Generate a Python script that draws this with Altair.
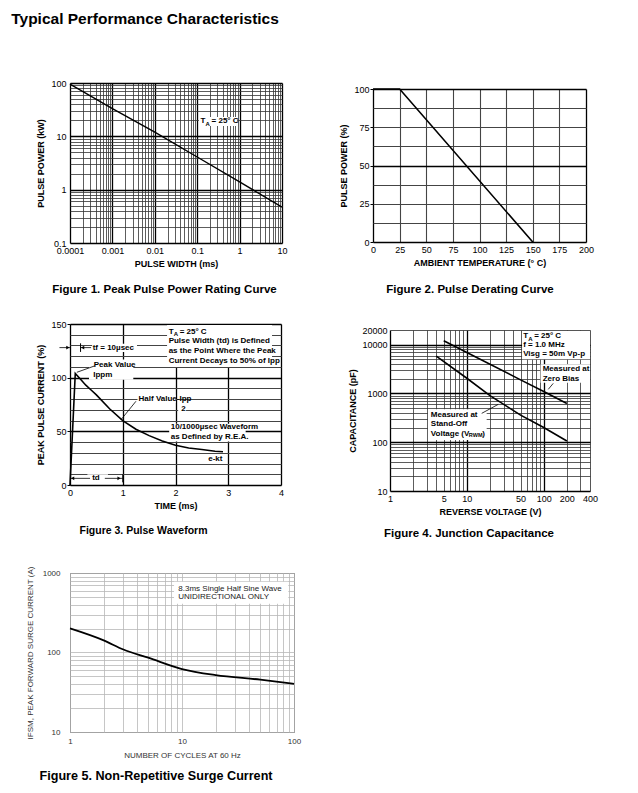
import json
import math
import altair as alt
import pandas as pd

FONT = "Liberation Sans"

# ---------------- data ----------------
# Figure 1: Peak pulse power rating curve
fig1_width_ms = [0.0001, 0.001, 0.01, 0.1, 1, 10]
fig1_power_kw = [95, 33, 12, 4.1, 1.4, 0.47]

# Figure 2: Pulse derating curve
fig2_temp_c = [0, 25, 150]
fig2_power_pct = [100, 100, 0]

# Figure 3: Pulse waveform
fig3_time_ms = [0, 0.1, 0.2, 0.3, 0.4, 0.5, 0.75, 1.0, 1.25, 1.5, 1.75, 2.0, 2.25, 2.5,
                2.75, 2.9]
fig3_current_pct = [0, 104, 98.5, 93, 88.5, 84, 71, 60, 52, 46, 41, 37, 34.5, 33, 31.5, 31]

# Figure 4: Junction capacitance
fig4_zero_v = [5, 10, 50, 100, 200]
fig4_zero_pf = [12000, 6900, 1900, 1100, 620]
fig4_standoff_v = [4, 10, 20, 50, 100, 200]
fig4_standoff_pf = [5800, 2050, 900, 360, 200, 106]

# Figure 5: Non-repetitive surge current
fig5_cycles = [1, 2, 3, 5, 10, 20, 50, 100]
fig5_ifsm_a = [201, 142, 109, 86, 62, 52, 45.5, 40.3]

# tick labels
fig1_x_labels = [0.0001, 0.001, 0.01, 0.1, 1, 10]
fig1_y_labels = [0.1, 1, 10, 100]
fig2_x_labels = [0, 25, 50, 75, 100, 125, 150, 175, 200]
fig2_y_labels = [0, 25, 50, 75, 100]
fig3_x_labels = [0, 1, 2, 3, 4]
fig3_y_labels = [0, 50, 100, 150]
fig4_x_labels = [1, 5, 10, 50, 100, 200, 400]
fig4_y_labels = [10, 100, 1000, 10000, 20000]
fig5_x_labels = [1, 10, 100]
fig5_y_labels = [10, 100, 1000]

# annotation texts
fig3_note_text = ["Pulse Width (td) is Defined", "as the Point Where the Peak",
                  "Current Decays to 50% of Ipp"]
fig3_wave_text = ["10/1000\u00b5sec Waveform", "as Defined by R.E.A."]
fig4_cond_text = ["f = 1.0 MHz", "Visg = 50m Vp-p"]
fig5_note_text = ["8.3ms Single Half Sine Wave", "UNIDIRECTIONAL ONLY"]


# ---------------- helpers ----------------
def log_values(lo, hi):
    vals = []
    e = math.floor(math.log10(lo))
    while True:
        for m in range(1, 10):
            v = float(f"{m * 10.0 ** e:.12g}")
            if v > hi * 1.0001:
                return vals
            if v >= lo * 0.9999:
                vals.append(v)
        e += 1


def lin_values(lo, hi, step):
    n = int(round((hi - lo) / step))
    return [float(f"{lo + i * step:.10g}") for i in range(n + 1)]


def grid_axis(title, values, labels, fmt, major, minc="#333", majc="#000",
              minw=0.8, majw=1.3, color="#000", lsize=9, tsize=9, tbold=True,
              label_pad=3, title_pad=4, tick=0):
    lab = "indexof(%s, datum.value) >= 0" % json.dumps(labels)
    maj = "indexof(%s, datum.value) >= 0" % json.dumps(major)
    extra = {}
    if tick > 0:
        extra = dict(ticks=True, tickSize=tick, tickWidth=1,
                     tickColor={"condition": {"test": lab, "value": "#000"},
                                "value": "transparent"})
    else:
        extra = dict(ticks=False)
    return alt.Axis(
        title=title, values=values, format=fmt,
        labelExpr=f"{lab} ? datum.label : ''",
        grid=True, domain=False,
        gridColor={"condition": {"test": maj, "value": majc}, "value": minc},
        gridWidth={"condition": {"test": maj, "value": majw}, "value": minw},
        labelFont=FONT, labelFontSize=lsize, labelColor=color, labelPadding=label_pad,
        labelOverlap=False, labelFlush=False,
        titleFont=FONT, titleFontSize=tsize, titleFontWeight="bold" if tbold else "normal",
        titleColor=color, titlePadding=title_pad, **extra,
    )


class Frame:
    """Shared x / y scales and axes of one figure."""

    def __init__(self, sx, sy, ax, ay):
        self.sx, self.sy, self.ax, self.ay = sx, sy, ax, ay

    def x(self):
        return alt.X("x:Q", scale=self.sx, axis=self.ax)

    def y(self):
        return alt.Y("y:Q", scale=self.sy, axis=self.ay)

    def line(self, xs, ys, width=1.6, interp="linear"):
        return alt.Chart(pd.DataFrame({"x": xs, "y": ys})).mark_line(
            color="black", strokeWidth=width, interpolate=interp).encode(x=self.x(), y=self.y())

    def texts(self, df, size=8, bold=True, color="#000", align="left", dx=0, dy=0):
        return alt.Chart(df).mark_text(
            font=FONT, fontSize=size, fontWeight="bold" if bold else "normal",
            color=color, align=align, baseline="middle", dx=dx, dy=dy,
        ).encode(x=self.x(), y=self.y(), text="t:N")

    def boxes(self, df):
        return alt.Chart(df).mark_rect(fill="white").encode(
            x=self.x(), x2="x2:Q", y=self.y(), y2="y2:Q")

    def rules(self, df, width=0.8):
        return alt.Chart(df).mark_rule(color="black", strokeWidth=width).encode(
            x=self.x(), x2="x2:Q", y=self.y(), y2="y2:Q")

    def heads(self, df, shape):
        return alt.Chart(df).mark_point(shape=shape, filled=True, color="black", size=14,
                                        opacity=1).encode(x=self.x(), y=self.y())

    def ta_label(self, x, y, size=8):
        mk = lambda t: pd.DataFrame({"x": [x], "y": [y], "t": [t]})
        return [self.texts(mk("T"), size=size),
                self.texts(mk("A"), size=size - 2, dx=5, dy=2.5),
                self.texts(mk("= 25\u00b0 C"), size=size, dx=11)]


def caption(text, dx=0, offset=14, size=11.5, color="#000"):
    return alt.TitleParams(text, orient="bottom", font=FONT, fontSize=size,
                           fontWeight="bold", color=color, offset=offset, dx=dx)


def spacer():
    return alt.Chart(pd.DataFrame({"a": [0]})).mark_point(opacity=0, size=1).encode(
        x=alt.value(0), y=alt.value(0)).properties(
        width=1, height=1, view=alt.ViewBackground(strokeOpacity=0))


def shifted(ch, gap):
    """Push a panel down a few pixels below an invisible 1-pixel spacer."""
    return alt.vconcat(spacer(), ch, spacing=gap)


# ---------------- Figure 1 ----------------
f1 = Frame(
    alt.Scale(type="log", domain=[0.0001, 10], nice=False),
    alt.Scale(type="log", domain=[0.1, 100], nice=False),
    grid_axis("PULSE WIDTH (ms)", log_values(0.0001, 10), fig1_x_labels, "~g", fig1_x_labels),
    grid_axis("PULSE POWER (kW)", log_values(0.1, 100), fig1_y_labels, "~g", fig1_y_labels,
              label_pad=4, title_pad=5),
)
fig1 = alt.layer(
    f1.line(fig1_width_ms, fig1_power_kw, width=1.4),
    f1.boxes(pd.DataFrame({"x": [0.11], "x2": [0.87], "y": [15.6], "y2": [23]})),
    *f1.ta_label(0.12, 19),
).properties(width=212, height=160,
             title=caption("Figure 1. Peak Pulse Power Rating Curve", dx=-11.5, offset=16))

# ---------------- Figure 2 ----------------
f2 = Frame(
    alt.Scale(domain=[0, 200], nice=False),
    alt.Scale(domain=[0, 100], nice=False),
    grid_axis("AMBIENT TEMPERATURE (\u00b0 C)", lin_values(0, 200, 25), fig2_x_labels, "d",
              [0, 200], minc="#444", minw=1.1),
    grid_axis("PULSE POWER (%)", lin_values(0, 100, 12.5), fig2_y_labels, "d",
              [0, 50, 100], minc="#444", minw=1.1, label_pad=1, title_pad=5, tick=3),
)
fig2 = f2.line(fig2_temp_c, fig2_power_pct).properties(
    width=213, height=153,
    title=caption("Figure 2. Pulse Derating Curve", dx=-9.5, offset=17))

# ---------------- Figure 3 ----------------
f3 = Frame(
    alt.Scale(domain=[0, 4], nice=False),
    alt.Scale(domain=[0, 150], nice=False),
    grid_axis("TIME (ms)", lin_values(0, 4, 0.5), fig3_x_labels, "d", fig3_x_labels,
              minc="#444", minw=1.0),
    grid_axis("PEAK PULSE CURRENT (%)", lin_values(0, 150, 10), fig3_y_labels, "d",
              fig3_y_labels, minc="#444", minw=1.0, label_pad=1, title_pad=5, tick=3),
)
fig3 = alt.layer(
    f3.boxes(pd.DataFrame({
        "x":  [0.42, 0.36, 1.84, 1.28, 2.05, 1.88, 2.5, 0.33],
        "x2": [1.27, 1.2, 3.83, 2.0, 2.2, 3.33, 2.8, 0.72],
        "y":  [124, 98, 110, 76.5, 67.5, 40.5, 20.5, 2.5],
        "y2": [131.5, 117, 149, 84, 75, 57, 28, 10],
    })),
    f3.line(fig3_time_ms, fig3_current_pct),
    f3.rules(pd.DataFrame({
        "x":  [-0.2, 0.2, 0.0, 0.66, 0.47, 1.25],
        "x2": [0.0, 0.4, 0.38, 1.0, 0.13, 0.97],
        "y":  [128, 128, 6.2, 6.2, 111, 78],
        "y2": [128, 128, 6.2, 6.2, 105, 61],
    })),
    f3.rules(pd.DataFrame({"x": [0.2, 1.0], "x2": [0.2, 1.0], "y": [124, 2.5],
                           "y2": [132, 10]}), width=1),
    f3.heads(pd.DataFrame({"x": [-0.04, 0.93], "y": [128, 6.2]}), "triangle-right"),
    f3.heads(pd.DataFrame({"x": [0.24, 0.05], "y": [128, 6.2]}), "triangle-left"),
    f3.texts(pd.DataFrame({
        "x": [0.43, 0.45, 0.44, 1.87, 1.87, 1.87, 1.30, 2.11, 1.91, 1.91, 2.62, 0.42],
        "y": [127.6, 112, 102.5, 133.9, 124.5, 115.2, 80, 71, 53.9, 44.3, 24.3, 6.2],
        "t": ["tf = 10\u00b5sec", "Peak Value", "Ippm"] + fig3_note_text
             + ["Half Value-Ipp", "2"] + fig3_wave_text + ["e-kt", "td"],
    })),
    *f3.ta_label(1.87, 143),
).properties(width=211, height=161,
             title=caption("Figure 3. Pulse Waveform", dx=-32, offset=15.5, size=10.5))

# ---------------- Figure 4 ----------------
f4 = Frame(
    alt.Scale(type="log", domain=[1, 400], nice=False),
    alt.Scale(type="log", domain=[10, 20000], nice=False),
    grid_axis("REVERSE VOLTAGE (V)", log_values(1, 400), fig4_x_labels, "d", [1, 10, 100]),
    grid_axis("CAPACITANCE (pF)", log_values(10, 20000), fig4_y_labels, "d",
              [10, 100, 1000, 10000], title_pad=4),
)
fig4 = alt.layer(
    f4.boxes(pd.DataFrame({
        "x": [52.3, 91, 3.12], "x2": [400, 400, 18.1],
        "y": [5000, 1660, 111], "y2": [19000, 3950, 472],
    })),
    f4.line(fig4_zero_v, fig4_zero_pf),
    f4.line(fig4_standoff_v, fig4_standoff_pf),
    f4.rules(pd.DataFrame({"x": [133, 15.6], "x2": [114.5, 25.6],
                           "y": [1610, 391], "y2": [1213, 598]})),
    f4.texts(pd.DataFrame({
        "x": [54, 54, 97, 97, 3.4, 3.4, 3.4],
        "y": [9700, 6300, 3220, 2010, 361, 233, 145],
        "t": fig4_cond_text + ["Measured at", "Zero Bias", "Measured at", "Stand-Off",
                               "Voltage (V"],
    })),
    f4.texts(pd.DataFrame({"x": [3.4], "y": [145], "t": ["RWM"]}), size=5.5, dx=38, dy=1),
    f4.texts(pd.DataFrame({"x": [3.4], "y": [145], "t": [")"]}), dx=51.5),
    *f4.ta_label(54, 15000),
).properties(width=200, height=161,
             title=caption("Figure 4. Junction Capacitance", dx=-21, offset=12))

# ---------------- Figure 5 ----------------
f5 = Frame(
    alt.Scale(type="log", domain=[1, 100], nice=False),
    alt.Scale(type="log", domain=[10, 1000], nice=False),
    grid_axis("NUMBER OF CYCLES AT 60 Hz", log_values(1, 100), fig5_x_labels, "d",
              fig5_x_labels, minc="#b8b8b8", majc="#b8b8b8", minw=0.8, majw=0.8,
              color="#333", lsize=8, tsize=8, tbold=False, label_pad=5, title_pad=6),
    grid_axis("IFSM, PEAK FORWARD SURGE CURRENT (A)", log_values(10, 1000), fig5_y_labels,
              "d", fig5_y_labels, minc="#b8b8b8", majc="#b8b8b8", minw=0.8, majw=0.8,
              color="#333", lsize=8, tsize=8, tbold=False, label_pad=10, title_pad=8),
)
fig5 = alt.layer(
    f5.boxes(pd.DataFrame({"x": [8.49], "x2": [89], "y": [411], "y2": [778]})),
    f5.line(fig5_cycles, fig5_ifsm_a, width=1.8, interp="monotone"),
    f5.texts(pd.DataFrame({"x": [9.27, 9.27], "y": [630, 495], "t": fig5_note_text}),
             size=8, bold=False, color="#222"),
).properties(
    width=224, height=159,
    title=caption("Figure 5. Non-Repetitive Surge Current", dx=-26, offset=11, size=12.6),
    view=alt.ViewBackground(stroke="#555", strokeWidth=1))

# ---------------- layout ----------------
row1 = alt.hconcat(fig1, shifted(fig2, 0), spacing=51)
row2 = alt.hconcat(fig3, shifted(fig4, 0), spacing=63)
upper = alt.vconcat(row1, row2, spacing=23)
chart = alt.vconcat(upper, fig5, spacing=25).properties(
    title=alt.TitleParams("Typical Performance Characteristics", anchor="start",
                          font=FONT, fontSize=15.5, fontWeight="bold", color="#000",
                          offset=51, dx=-14.5),
    padding={"left": 3, "top": 4, "right": 0, "bottom": 0},
).configure_view(stroke="black", strokeWidth=1.5).configure(background="white")

chart.save("out.html", embed_options={"renderer": "svg", "actions": False})
